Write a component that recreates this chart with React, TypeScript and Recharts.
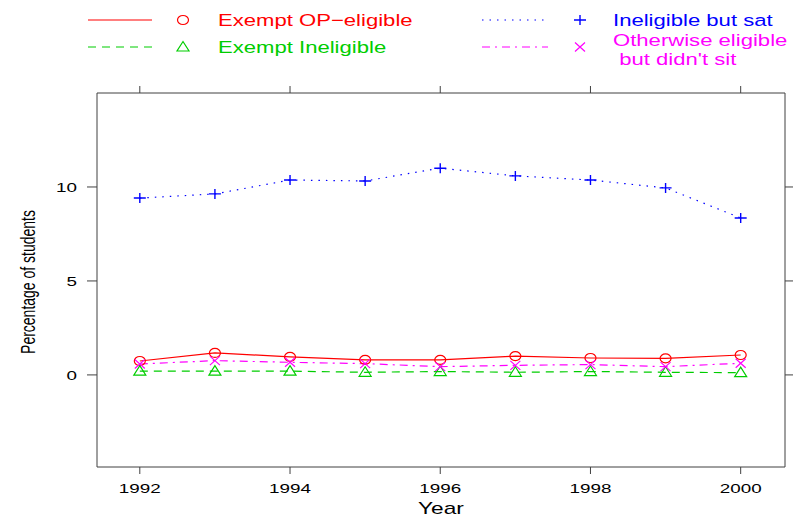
import React from 'react';
import { LineChart, Line, XAxis, YAxis, Legend } from 'recharts';

// values (percentage of students)
const years = [1992, 1993, 1994, 1995, 1996, 1997, 1998, 1999, 2000];
const exemptOpEligible = [0.74, 1.17, 0.96, 0.8, 0.8, 1.0, 0.9, 0.88, 1.06];
const exemptIneligible = [0.2, 0.2, 0.2, 0.14, 0.18, 0.14, 0.18, 0.14, 0.12];
const ineligibleButSat = [9.41, 9.63, 10.37, 10.32, 11.0, 10.59, 10.37, 9.95, 8.35];
const otherwiseEligible = [0.58, 0.76, 0.67, 0.6, 0.44, 0.51, 0.55, 0.44, 0.62];

const xTicks = [1992, 1994, 1996, 1998, 2000];
const yTicks = [0, 5, 10];
const xDomain = [1991.43, 2000.59];
const yDomain = [-4.9, 15];

const FONT = '"Liberation Sans", Arial, Helvetica, sans-serif';
const FRAME = '#404040';
const SX = 1.45; // the reference is stretched horizontally

const data = years.map((year, i) => ({
  year,
  opEligible: exemptOpEligible[i],
  ineligible: exemptIneligible[i],
  sat: ineligibleButSat[i],
  otherwise: otherwiseEligible[i],
}));

type Shape = 'circle' | 'triangle' | 'plus' | 'cross';

// x/y axis ids only spread the series over the four identical frame axes,
// so that the top and right sides get drawn too
const series: { key: string; label: string[]; color: string; dash?: string; shape: Shape; xId: string; yId: string }[] = [
  { key: 'opEligible', label: ['Exempt OP\u2212eligible'], color: '#ff0000', shape: 'circle', xId: 'bottom', yId: 'left' },
  { key: 'ineligible', label: ['Exempt Ineligible'], color: '#00cd00', dash: '8 6', shape: 'triangle', xId: 'top', yId: 'left' },
  { key: 'sat', label: ['Ineligible but sat'], color: '#0000ff', dash: '1.5 6', shape: 'plus', xId: 'bottom', yId: 'right' },
  { key: 'otherwise', label: ['Otherwise eligible', ' but didn\'t sit'], color: '#ff00ff', dash: '8 5 2 5', shape: 'cross', xId: 'top', yId: 'right' },
];

function Marker({ cx, cy, shape, color }: { cx: number; cy: number; shape: Shape; color: string }) {
  const common = { fill: 'none', stroke: color, strokeWidth: 1.2 };
  if (shape === 'circle') return <ellipse cx={cx} cy={cy} rx={5.5} ry={4.5} {...common} />;
  if (shape === 'triangle')
    return <polygon points={`${cx - 6},${cy + 4} ${cx + 6},${cy + 4} ${cx},${cy - 5.5}`} {...common} />;
  if (shape === 'plus')
    return <path d={`M${cx - 6},${cy}H${cx + 6}M${cx},${cy - 5}V${cy + 5}`} {...common} strokeWidth={1.4} />;
  return <path d={`M${cx - 5},${cy - 4.5}L${cx + 5},${cy + 4.5}M${cx - 5},${cy + 4.5}L${cx + 5},${cy - 4.5}`} {...common} />;
}

function XTick(props: any) {
  const { x, y, payload } = props;
  return (
    <text transform={`translate(${x},${y + 17}) scale(${SX},1)`} textAnchor="middle" fontSize={13} fontFamily={FONT} fill="#000">
      {payload.value}
    </text>
  );
}

function YTick(props: any) {
  const { x, y, payload } = props;
  return (
    <text transform={`translate(${x - 8},${y + 4.7}) scale(${SX},1)`} textAnchor="end" fontSize={13} fontFamily={FONT} fill="#000">
      {payload.value}
    </text>
  );
}

const NoTick = () => <g />;

function ChartLegend() {
  const cols = [
    { line: 88, lineEnd: 152, mark: 183, text: 218 },
    { line: 482, lineEnd: 548, mark: 580, text: 613 },
  ];
  const rows = [20, 47];
  return (
    <svg width={794} height={75}>
      {series.map((s, i) => {
        const c = cols[Math.floor(i / 2)];
        const cy = rows[i % 2];
        const multi = s.label.length > 1;
        return (
          <g key={s.key}>
            <line x1={c.line} x2={c.lineEnd} y1={cy} y2={cy} stroke={s.color} strokeWidth={1.2} strokeDasharray={s.dash} />
            <Marker cx={c.mark} cy={cy} shape={s.shape} color={s.color} />
            {s.label.map((t, j) => (
              <text
                key={j}
                transform={`translate(${c.text},${(multi ? cy - 7 + j * 19 : cy) + 6}) scale(1.3,1)`}
                fontSize={17}
                fontFamily={FONT}
                fill={s.color}
                style={{ whiteSpace: 'pre' }}
              >
                {t}
              </text>
            ))}
          </g>
        );
      })}
    </svg>
  );
}

export default function App() {
  return (
    <div style={{ position: 'absolute', left: 0, top: 0, background: '#fff' }}>
      <LineChart width={794} height={516} data={data} margin={{ top: 92, right: 8, bottom: 0, left: 0 }}>
        <XAxis
          xAxisId="bottom"
          dataKey="year"
          type="number"
          domain={xDomain}
          ticks={xTicks}
          allowDataOverflow
          height={49}
          tickSize={7}
          stroke={FRAME}
          tick={<XTick />}
          label={{
            content: () => (
              <text transform={`translate(441,514) scale(1.42,1)`} textAnchor="middle" fontSize={16} fontFamily={FONT} fill="#000">
                Year
              </text>
            ),
          }}
        />
        <XAxis
          xAxisId="top"
          orientation="top"
          dataKey="year"
          type="number"
          domain={xDomain}
          ticks={xTicks}
          allowDataOverflow
          height={1}
          tickSize={7}
          stroke={FRAME}
          tick={<NoTick />}
        />
        <YAxis
          yAxisId="left"
          type="number"
          domain={yDomain}
          ticks={yTicks}
          allowDataOverflow
          width={97}
          tickSize={10}
          stroke={FRAME}
          tick={<YTick />}
          label={{
            content: () => (
              <text transform={`translate(35,282) scale(1.45,1) rotate(-90)`} textAnchor="middle" fontSize={14} fontFamily={FONT} fill="#000">
                Percentage of students
              </text>
            ),
          }}
        />
        <YAxis
          yAxisId="right"
          orientation="right"
          type="number"
          domain={yDomain}
          ticks={yTicks}
          allowDataOverflow
          width={1}
          tickSize={8}
          stroke={FRAME}
          tick={<NoTick />}
        />
        <Legend
          layout="horizontal"
          verticalAlign="middle"
          align="center"
          wrapperStyle={{ top: 0, left: 0, width: 794, height: 75 }}
          content={() => <ChartLegend />}
        />
        {series.map((s) => (
          <Line
            key={s.key}
            xAxisId={s.xId}
            yAxisId={s.yId}
            dataKey={s.key}
            stroke={s.color}
            strokeWidth={1.2}
            strokeDasharray={s.dash}
            isAnimationActive={false}
            dot={(p: any) => <Marker key={`${s.key}-${p.index}`} cx={p.cx} cy={p.cy} shape={s.shape} color={s.color} />}
            activeDot={false}
          />
        ))}
      </LineChart>
    </div>
  );
}
